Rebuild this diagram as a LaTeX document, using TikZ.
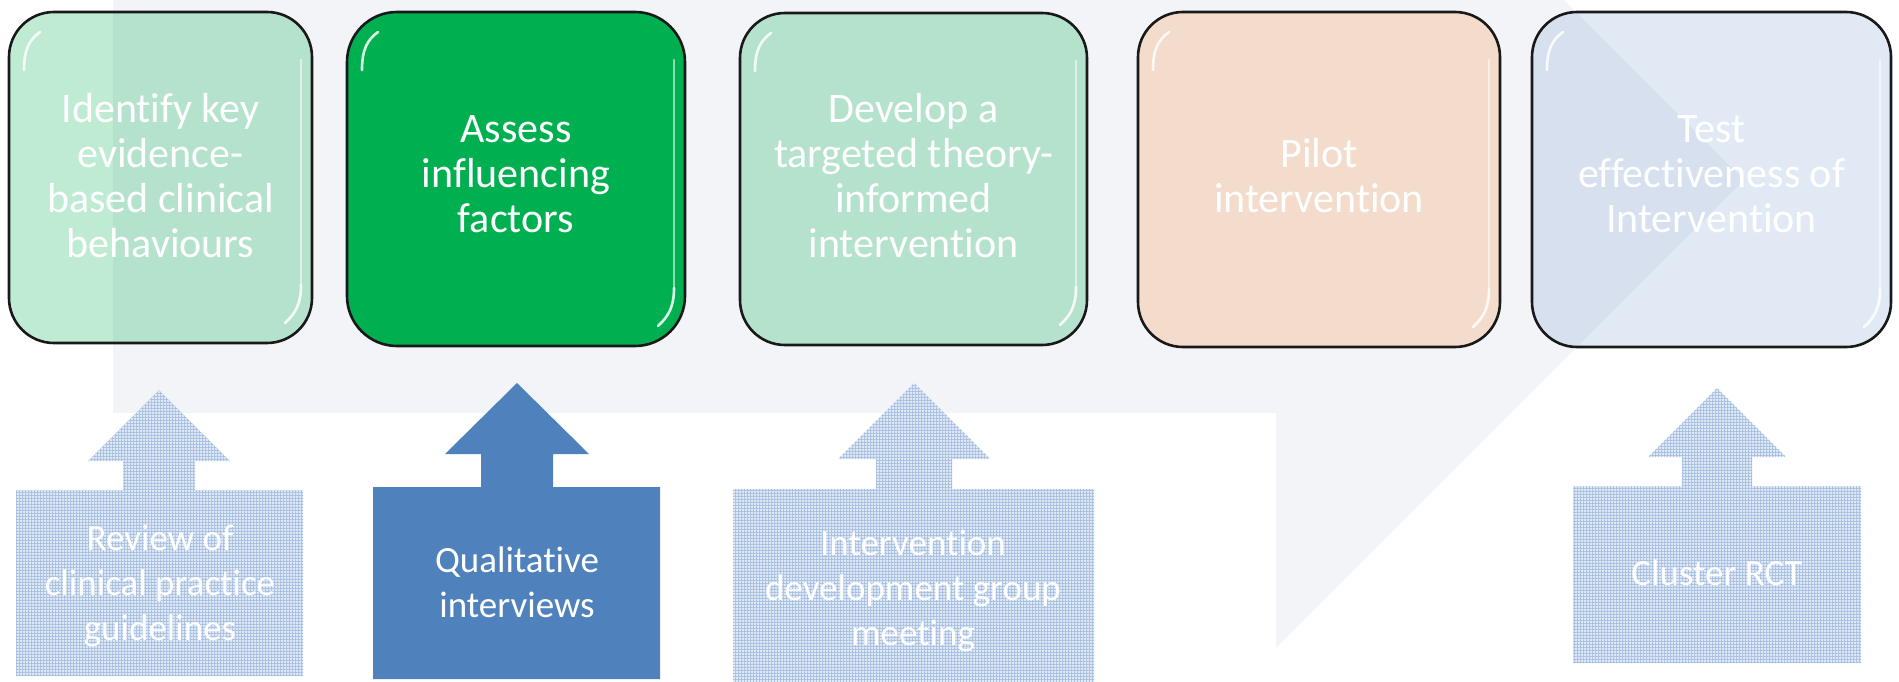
\documentclass[tikz,border=0pt]{standalone}
\usepackage{fontspec}
\setmainfont[Ligatures=NoCommon]{Carlito}
\usetikzlibrary{calc,patterns.meta}
\definecolor{bggrey}{HTML}{F2F4F8}
\definecolor{sgreen}{HTML}{00B050}
\definecolor{sorange}{HTML}{F79646}
\definecolor{sblue}{HTML}{4F81BD}
\definecolor{gridbase}{HTML}{DEE7F4}
\definecolor{gridline}{HTML}{A6BFE1}
\pgfdeclarepattern{
  name=finegrid, type=uncolored,
  bottom left={\pgfpoint{0pt}{0pt}},
  top right={\pgfpoint{3.2pt}{3.2pt}},
  tile size={\pgfpoint{3.2pt}{3.2pt}},
  code={\pgfpathrectangle{\pgfpointorigin}{\pgfpoint{3.2pt}{1pt}}%
        \pgfpathrectangle{\pgfpointorigin}{\pgfpoint{1pt}{3.2pt}}%
        \pgfusepath{fill}}}
\tikzset{
  stage/.style={rectangle, rounded corners=45pt, draw=black!90, line width=2.6pt,
                inner sep=0pt, outer sep=0pt},
  gloss/.style={white, line width=2.6pt, line cap=round, opacity=0.85},
  glossfaint/.style={white, line width=2.2pt, line cap=round, opacity=0.55},
  boxtext/.style={text=white, font=\fontsize{42}{45}\selectfont, align=center,
                  anchor=base, inner sep=0pt},
  arrowtext/.style={text=white, font=\fontsize{37}{45}\selectfont, align=center,
                    anchor=base, inner sep=0pt},
  lightarrow/.style={fill=gridbase},
  gridover/.style={pattern=finegrid, pattern color=gridline},
  darkarrow/.style={fill=sblue},
}
% up-arrow callout: cx, apex y, head half, head base y, shaft half, base top, base left, base right, base bottom
\newcommand\callpath[9]{(#7,#6) -- ({#1-#5},#6) -- ({#1-#5},#4) -- ({#1-#3},#4) -- (#1,#2)
  -- ({#1+#3},#4) -- ({#1+#5},#4) -- ({#1+#5},#6) -- (#8,#6) -- (#8,#9) -- (#7,#9) -- cycle}
\newcommand\glossbox[1]{%
  \draw[gloss] ($(#1.north west)+(15,58)$) .. controls ($(#1.north west)+(15,38)$) and ($(#1.north west)+(20,28)$) .. ($(#1.north west)+(31,20)$);
  \draw[glossfaint] ($(#1.north east)+(-11,48)$) -- ($(#1.south east)+(-11,-58)$);
  \draw[gloss] ($(#1.south east)+(-11,-58)$) .. controls ($(#1.south east)+(-11,-40)$) and ($(#1.south east)+(-16,-30)$) .. ($(#1.south east)+(-27,-20)$);
}
\begin{document}
\begin{tikzpicture}[x=1pt,y=-1pt]
\useasboundingbox (0,0) rectangle (1899,682);
% background big arrow
\begin{scope}
  \clip (0,0) rectangle (1899,682);
  \fill[bggrey] (113,-60) -- (1276,-60) -- (1276,-288) -- (1744,180) -- (1276,648)
     -- (1276,413) -- (113,413) -- cycle;
\end{scope}

% bottom up-arrow callouts
\fill[lightarrow] \callpath{159}{390}{71}{461}{36}{490}{16}{303}{676};
\fill[gridover]   \callpath{159}{390}{71}{461}{36}{490}{16}{303}{676};
\fill[darkarrow]  \callpath{517}{383}{72}{454}{36}{487}{373}{660}{679};
\fill[lightarrow] \callpath{914}{383}{76}{459}{38}{489}{733}{1094}{682};
\fill[gridover]   \callpath{914}{383}{76}{459}{38}{489}{733}{1094}{682};
\fill[lightarrow] \callpath{1717}{388}{69}{457}{35}{486}{1573}{1861}{663};
\fill[gridover]   \callpath{1717}{388}{69}{457}{35}{486}{1573}{1861}{663};

% text nodes: base anchor = baseline of the last line
\node[arrowtext] (a1) at (160,640) {Review of\\clinical practice\\guidelines};
\node[arrowtext] (a2) at (517,617) {Qualitative\\interviews};
\node[arrowtext] (a3) at (913,645) {Intervention\\development group\\meeting};
\node[arrowtext] (a4) at (1717,585) {Cluster RCT};

% stage boxes
\node[stage, fill=sgreen, fill opacity=0.25, minimum width=303pt, minimum height=331pt] (b1) at (160.5,177.5) {};
\node[stage, fill=sgreen, minimum width=338pt, minimum height=334pt, rounded corners=50pt] (b2) at (516,179) {};
\node[stage, fill=sgreen, fill opacity=0.25, minimum width=347pt, minimum height=332pt] (b3) at (913.5,179) {};
\node[stage, fill=sorange, fill opacity=0.25, minimum width=362pt, minimum height=335pt] (b4) at (1319,179.5) {};
\node[stage, fill=sblue, fill opacity=0.17, minimum width=359pt, minimum height=335pt] (b5) at (1711.5,179.5) {};
\glossbox{b1}\glossbox{b2}\glossbox{b3}\glossbox{b4}\glossbox{b5}

\node[boxtext] (t1) at (160.5,257) {Identify key\\evidence-\\based clinical\\behaviours};
\node[boxtext] (t2) at (516,233) {Assess\\influencing\\factors};
\node[boxtext] (t3) at (913.5,257) {Develop a\\targeted theory-\\informed\\intervention};
\node[boxtext] (t4) at (1319,212) {Pilot\\intervention};
\node[boxtext] (t5) at (1711.5,233) {Test\\effectiveness of\\Intervention};
\end{tikzpicture}
\end{document}
